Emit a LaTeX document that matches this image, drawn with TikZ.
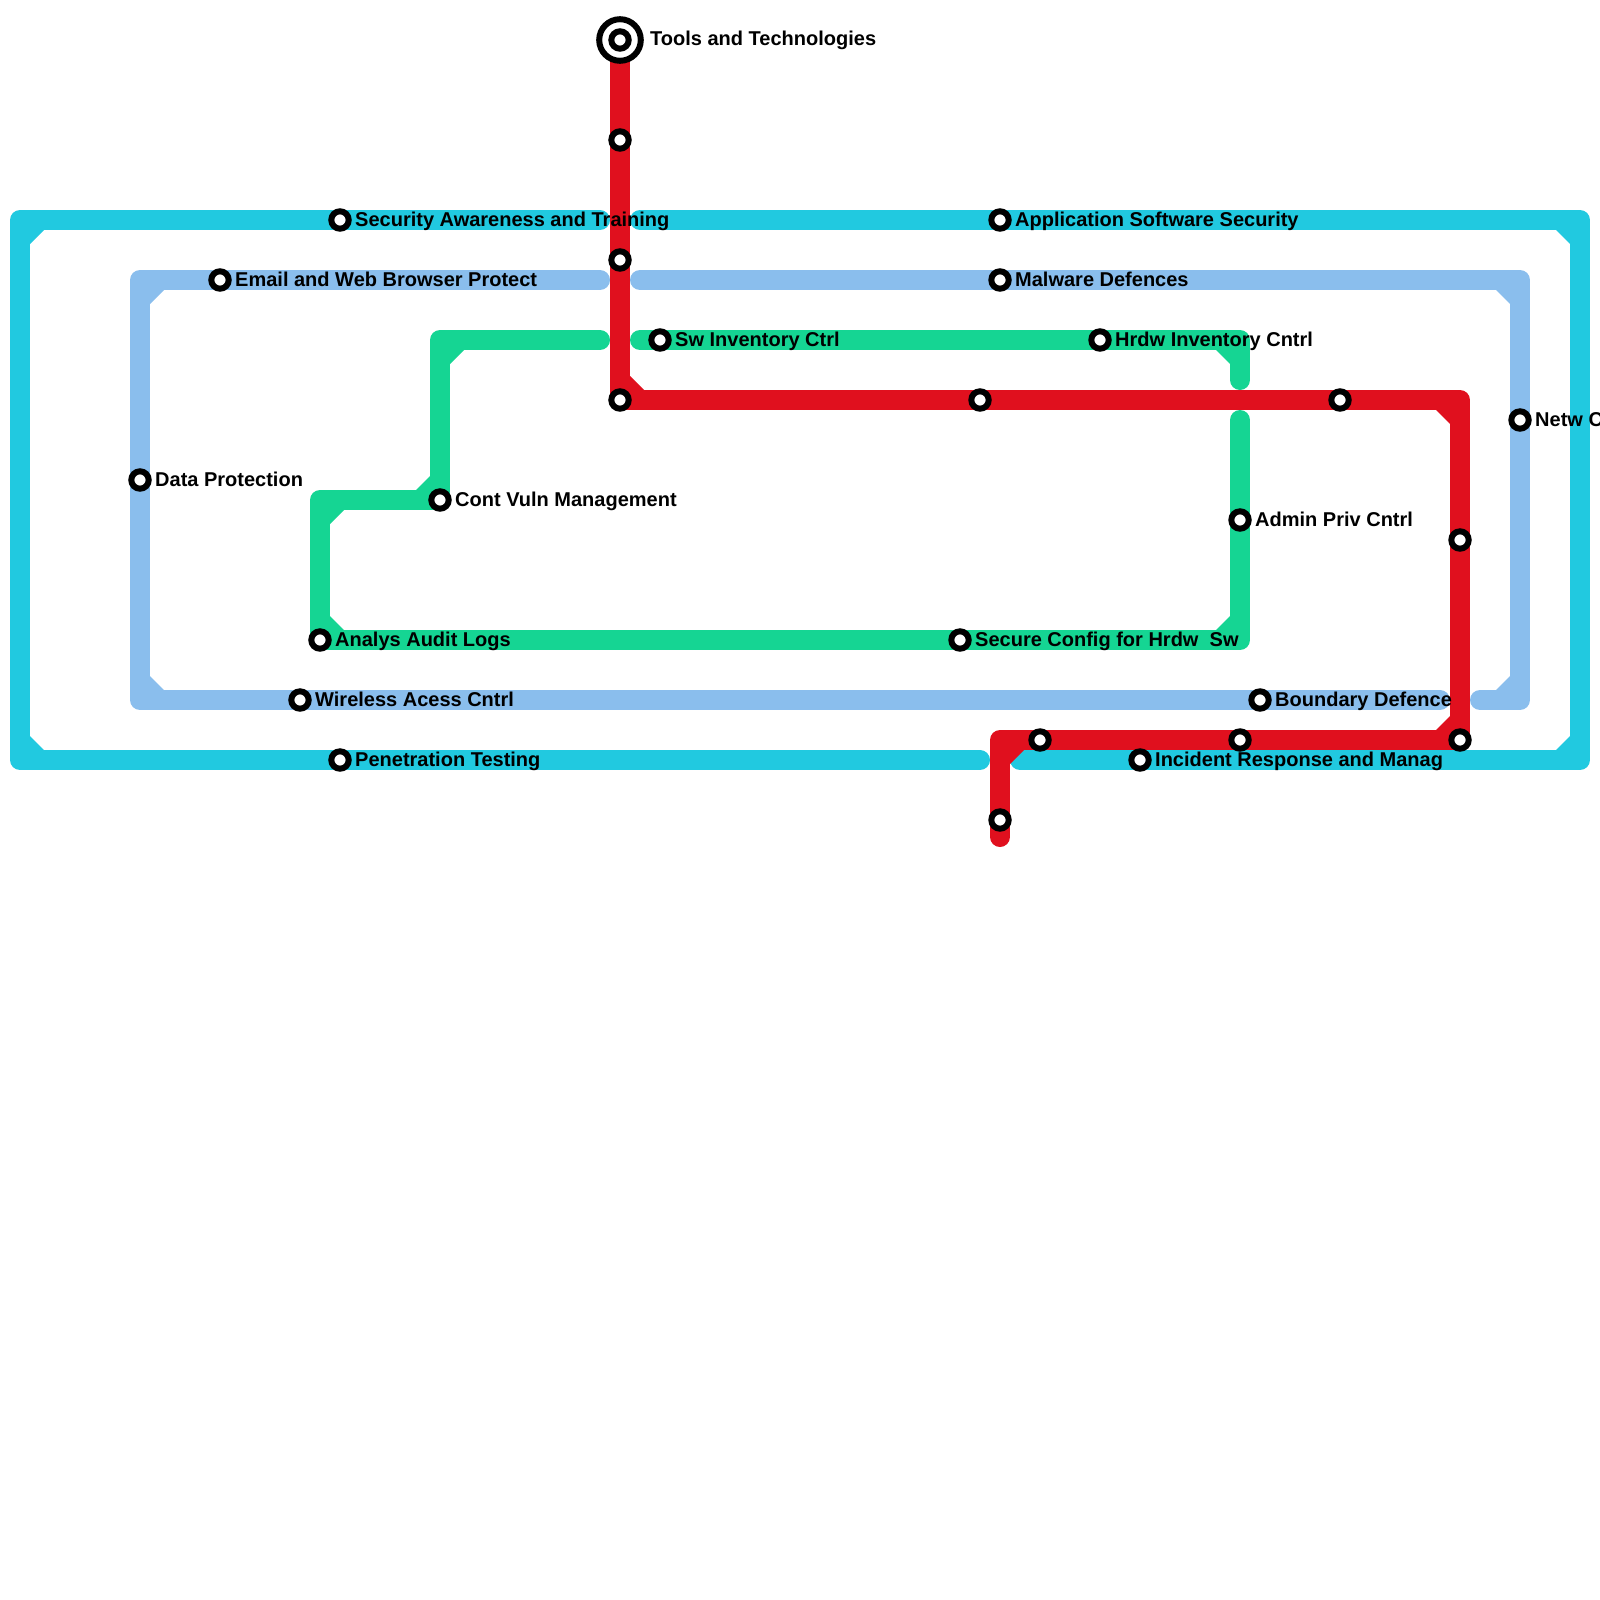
\documentclass[tikz,border=0pt]{standalone}
\usepackage{fontspec}
\setmainfont{Liberation Sans}
\usetikzlibrary{backgrounds}

\definecolor{cyanline}{RGB}{33,201,224}
\definecolor{blueline}{RGB}{138,190,237}
\definecolor{greenline}{RGB}{21,213,147}
\definecolor{redline}{RGB}{224,16,30}

\tikzset{
  route/.style={line width=20pt, line cap=round, line join=round},
  stationdot/.style={circle, draw=black, fill=white, line width=6pt, minimum size=17.4pt, inner sep=0pt},
  bigstation/.style={circle, draw=black, fill=white, line width=6pt, minimum size=41.6pt, inner sep=0pt},
  stationlabel/.style={anchor=base west, inner sep=0pt, font=\bfseries\fontsize{20}{22}\selectfont},
}

\begin{document}
\begin{tikzpicture}[x=1pt, y=-1pt]
\useasboundingbox (0,0) rectangle (1600,1600);

% stations with labels
\foreach \n/\x/\y/\t in {sat/340/220/Security Awareness and Training,
  app/1000/220/Application Software Security,
  email/220/280/Email and Web Browser Protect,
  malware/1000/280/Malware Defences,
  sw/660/340/Sw Inventory Ctrl,
  hw/1100/340/Hrdw Inventory Cntrl,
  netw/1520/420/Netw Cntrl,
  dp/140/480/Data Protection,
  cvm/440/500/Cont Vuln Management,
  admin/1240/520/Admin Priv Cntrl,
  aal/320/640/Analys Audit Logs,
  scfg/960/640/Secure Config for Hrdw\ \ Sw,
  wac/300/700/Wireless Acess Cntrl,
  bd/1260/700/Boundary Defence,
  pen/340/760/Penetration Testing,
  irm/1140/760/Incident Response and Manag}
{
  \node[stationdot] (\n) at (\x,\y) {};
  \node[stationlabel] (\n-txt) at ([shift={(15,6)}]\n.center) {\t};
}

% red line stops
\foreach \n/\x/\y in {r1/620/140, r2/620/260, r3/620/400, r4/980/400, r5/1340/400,
  r6/1460/540, r7/1460/740, r8/1240/740, r9/1040/740, r10/1000/820}
  \node[stationdot] (\n) at (\x,\y) {};

\node[bigstation] (tools) at (620,40) {};
\node[stationdot] (tools-in) at (tools.center) {};
\node[stationlabel] (tools-txt) at ([shift={(30,6)}]tools.center) {Tools and Technologies};

% line ends and bends
\foreach \n/\x/\y in {cyA/600/220, cyTL/20/220, cyBL/20/760, cyB/980/760,
  cyC/640/220, cyTR/1580/220, cyBR/1580/760, cyD/1020/760,
  lbA/600/280, lbTL/140/280, lbBL/140/700, lbB/1440/700,
  lbC/640/280, lbTR/1520/280, lbBR/1520/700, lbD/1480/700,
  gnA/600/340, gnK1/440/340, gnK2/320/500, gnK3/1240/640, gnB/1240/420,
  gnC/640/340, gnK4/1240/340, gnD/1240/380,
  rdK1/1460/400, rdK2/1000/740, rdEnd/1000/837}
  \coordinate (\n) at (\x,\y);

\begin{scope}[on background layer]
\draw[route, cyanline] (cyA) -- (sat.center) -- (cyTL) -- (cyBL) -- (pen.center) -- (cyB);
\draw[route, cyanline] (cyC) -- (app.center) -- (cyTR) -- (cyBR) -- (irm.center) -- (cyD);

\draw[route, blueline] (lbA) -- (email.center) -- (lbTL) -- (dp.center) -- (lbBL) -- (wac.center) -- (bd.center) -- (lbB);
\draw[route, blueline] (lbC) -- (malware.center) -- (lbTR) -- (netw.center) -- (lbBR) -- (lbD);

\draw[route, greenline] (gnA) -- (gnK1) -- (cvm.center) -- (gnK2) -- (aal.center) -- (scfg.center) -- (gnK3) -- (admin.center) -- (gnB);
\draw[route, greenline] (gnC) -- (sw.center) -- (hw.center) -- (gnK4) -- (gnD);

\draw[route, redline] (tools.center) -- (r1.center) -- (r2.center) -- (r3.center) -- (r4.center) -- (r5.center) -- (rdK1)
  -- (r6.center) -- (r7.center) -- (r8.center) -- (r9.center) -- (rdK2) -- (r10.center) -- (rdEnd);

% inner corner chamfers
\foreach \cx/\cy/\sx/\sy/\col in {20/220/1/1/cyanline, 1580/220/-1/1/cyanline, 1580/760/-1/-1/cyanline, 20/760/1/-1/cyanline,
  140/280/1/1/blueline, 1520/280/-1/1/blueline, 1520/700/-1/-1/blueline, 140/700/1/-1/blueline,
  440/340/1/1/greenline, 440/500/-1/-1/greenline, 320/500/1/1/greenline, 320/640/1/-1/greenline,
  1240/640/-1/-1/greenline, 1240/340/-1/1/greenline,
  620/400/1/-1/redline, 1460/400/-1/1/redline, 1460/740/-1/-1/redline, 1000/740/1/1/redline}
  \fill[\col] (\cx+10*\sx, \cy+10*\sy) -- ++(14*\sx, 0) -- ++(-14*\sx, 14*\sy) -- cycle;
\end{scope}
\end{tikzpicture}
\end{document}
